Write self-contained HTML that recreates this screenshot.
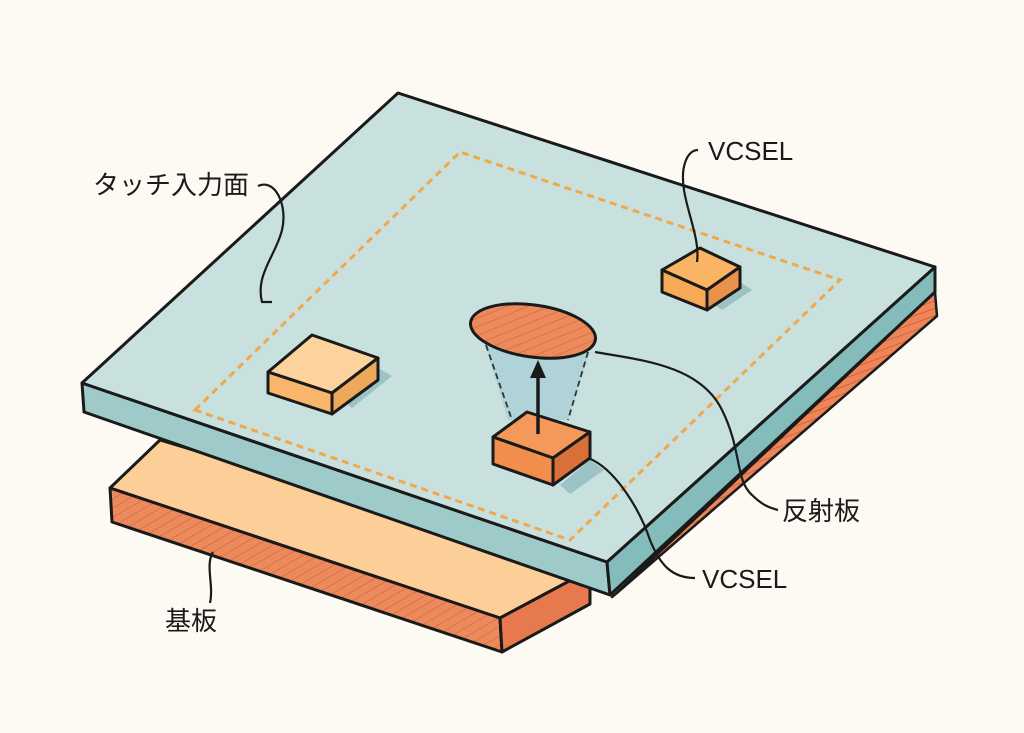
<!DOCTYPE html>
<html><head><meta charset="utf-8"><style>
html,body{margin:0;padding:0;background:#fdfaf3;}
svg{display:block}
text{font-family:"Liberation Sans","Noto Sans CJK JP",sans-serif;fill:#1a1a1a;font-size:26px}
</style></head><body>
<svg width="1024" height="733" viewBox="0 0 1024 733" xmlns="http://www.w3.org/2000/svg">
<defs>
<pattern id="h" width="8" height="8" patternUnits="userSpaceOnUse" patternTransform="rotate(60)">
<rect width="8" height="8" fill="#ec8a5c"/><line x1="0" y1="0" x2="0" y2="8" stroke="#d56a42" stroke-width="1.5"/>
</pattern>
<pattern id="h2" width="7" height="7" patternUnits="userSpaceOnUse" patternTransform="rotate(70)">
<rect width="7" height="7" fill="#ee8558"/><line x1="0" y1="0" x2="0" y2="7" stroke="#c95a35" stroke-width="1.5"/>
</pattern>
</defs>
<rect width="1024" height="733" fill="#fdfaf3"/>
<g stroke="#1a1a1a" stroke-width="3" stroke-linejoin="round">
<polygon points="110,488 160,440 590,570 500,618" fill="#fbcf97"/>
<polygon points="110,488 500,618 502,652 112,522" fill="url(#h)"/>
<polygon points="500,618 590,570 590,604 502,652" fill="#e7794e"/>
<polygon points="612,597 935,292 937,316 618,592" fill="url(#h2)" stroke-width="2.5"/>
<polygon points="82,383 84,412 610,595 607,562" fill="#9fcaca"/>
<polygon points="607,562 935,267 935,292 610,595" fill="#84bcbc"/>
<polygon points="82,383 398,93 935,267 607,562" fill="#c8e1df"/>
</g>
<polygon points="195,410 460,152 840,280 570,540" fill="none" stroke="#f0a84a" stroke-width="3" stroke-dasharray="7,5"/>
<polygon points="340,398 378,368 392,376 352,408" fill="#9cc2c6"/>
<polygon points="712,303 740,282 752,290 722,310" fill="#9cc2c6"/>
<polygon points="560,485 590,460 604,470 570,494" fill="#9cc2c6"/>
<polygon points="484,342 590,352 568,420 508,420" fill="#a9d0d6" opacity="0.8"/>
<g stroke="#333" stroke-width="1.8" stroke-dasharray="6,4" fill="none">
<line x1="486" y1="345" x2="512" y2="420"/><line x1="588" y1="352" x2="568" y2="420"/>
</g>
<g stroke="#1a1a1a" stroke-width="3" stroke-linejoin="round">
<polygon points="268,372 312,335 378,358 332,393" fill="#fcd39c"/>
<polygon points="268,372 332,393 332,414 268,393" fill="#f8b66a"/>
<polygon points="332,393 378,358 378,380 332,414" fill="#eea85a"/>
<polygon points="662,270 700,248 740,267 707,290" fill="#f9b464"/>
<polygon points="662,270 707,290 707,310 662,292" fill="#f7aa56"/>
<polygon points="707,290 740,267 740,288 707,310" fill="#e8924a"/>
<polygon points="493,437 527,412 590,432 553,458" fill="#f4995a"/>
<polygon points="493,437 553,458 553,485 493,464" fill="#f18e4c"/>
<polygon points="553,458 590,432 590,458 553,485" fill="#d9703a"/>
<ellipse cx="533" cy="331" rx="63" ry="26" transform="rotate(8 533 331)" fill="url(#h)"/>
</g>
<line x1="538" y1="434" x2="538" y2="372" stroke="#1a1a1a" stroke-width="3.5"/>
<polygon points="538,360 530,378 546,378" fill="#1a1a1a"/>
<g fill="none" stroke="#1a1a1a" stroke-width="2.2">
<path d="M258,186 C275,178 288,205 282,230 C276,255 255,275 262,302 L272,302"/>
<path d="M698,150 C688,150 680,165 684,190 C688,215 700,240 697,262"/>
<path d="M595,352 C640,360 700,365 722,410 C742,450 735,480 752,495 C762,505 770,508 778,510"/>
<path d="M588,458 C615,468 640,510 650,540 C660,565 672,578 695,578"/>
<path d="M213,552 C205,565 214,585 210,603"/>
</g>
<text x="93" y="194">タッチ入力面</text>
<text x="708" y="160">VCSEL</text>
<text x="782" y="520">反射板</text>
<text x="702" y="588">VCSEL</text>
<text x="165" y="630">基板</text>
</svg>
</body></html>
